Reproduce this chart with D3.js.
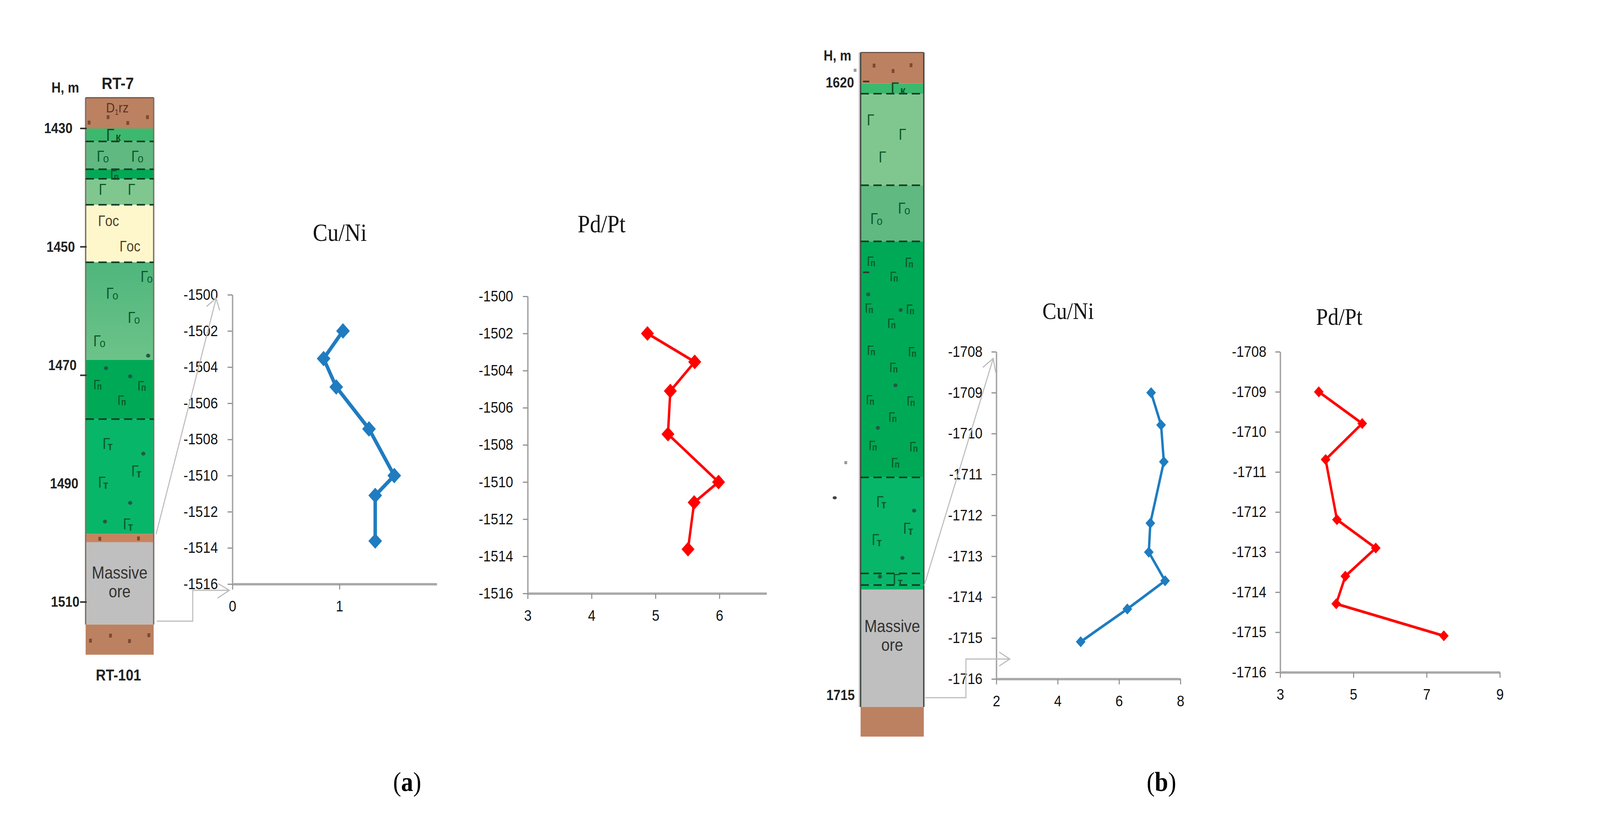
<!DOCTYPE html>
<html>
<head>
<meta charset="utf-8">
<title>Cu/Ni and Pd/Pt profiles</title>
<script src="https://cdn.jsdelivr.net/npm/d3@7"></script>
<style>
    html, body { margin: 0; padding: 0; background: #fff; overflow: hidden; }
    svg { display: block; width: 100vw; height: 100vh; }
    text { font-family: "Liberation Sans", Arial, sans-serif; }
    .title, .caption { font-family: "Liberation Serif", "Times New Roman", serif; }
</style>
</head>
<body>
<script>
"use strict";

// Panel (a) section RT-7 / RT-101: layer tops in metres, last value is the bottom
const columnADepths = [1424.8, 1430, 1432.2, 1436.9, 1438.5, 1442.9, 1452.6, 1469.1, 1479.1, 1498.5, 1499.9, 1513.8, 1518.9];
const columnARocks = ["brown", "gk", "go", "gp", "g", "gos", "goFade", "gp", "gt", "brownThin", "ore", "brown"];
const columnADashed = [1432.2, 1436.9, 1438.5, 1442.9, 1452.6, 1479.1];
const columnADepthTicks = [1430, 1450, 1470, 1490, 1510];
const columnADepthDashes = [1430, 1450, 1471.7, 1510];

// Panel (b) section
const columnBDepths = [1615.3, 1620.1, 1621.7, 1635.9, 1644.6, 1681.2, 1696.1, 1697.9, 1698.6, 1716.8, 1721.4];
const columnBRocks = ["brown", "gk", "g", "go", "gp", "gt", "gt", "gt", "ore", "brown"];
const columnBDashed = [1621.7, 1635.9, 1644.6, 1681.2, 1696.1, 1697.9];
const columnBDepthTicks = [1620, 1715];
const columnBDepthDashes = [1619.8, 1649.4];

// Panel (a) profiles
const depthsA = [-1502, -1503.53, -1505.1, -1507.42, -1510, -1511.1, -1513.62];
const cuNiA = [1.033, 0.852, 0.97, 1.276, 1.512, 1.334, 1.334];
const pdPtA = [4.874, 5.614, 5.232, 5.195, 5.987, 5.605, 5.509];
const depthTicksA = [-1500, -1502, -1504, -1506, -1508, -1510, -1512, -1514, -1516];
const cuNiTicksA = [0, 1];
const pdPtTicksA = [3, 4, 5, 6];

// Panel (b) profiles
const depthsB = [-1709, -1709.79, -1710.69, -1712.19, -1712.9, -1713.6, -1714.29, -1715.09];
const cuNiB = [7.045, 7.37, 7.46, 7.02, 6.97, 7.5, 6.27, 4.75];
const pdPtB = [4.054, 5.24, 4.24, 4.55, 5.61, 4.78, 4.53, 7.47];
const depthTicksB = [-1708, -1709, -1710, -1711, -1712, -1713, -1714, -1715, -1716];
const cuNiTicksB = [2, 4, 6, 8];
const pdPtTicksB = [3, 5, 7, 9];

const rockColors = {
    brown: "#bc8160",
    brownThin: "#c9835f",
    gk: "#3cb96e",
    go: "#5fb981",
    goFade: "url(#goFade)",
    gp: "#00a955",
    g: "#80c78f",
    gos: "#fff7cc",
    gt: "#08b669",
    ore: "#bfbfbf"
};

// how the small letter sits in the corner of the gabbro sign
const signStyles = {
    "": { big: 40, small: 30, dx: 0, dy: 0, weight: "normal", fill: "#0b5a2c" },
    "о": { big: 40, small: 30, dx: -3, dy: 2, weight: "normal", fill: "#0b5a2c" },
    "п": { big: 36, small: 24, dx: -9, dy: 1, weight: "bold", fill: "#0b5a2c" },
    "т": { big: 40, small: 30, dx: -7, dy: 3, weight: "bold", fill: "#0b5a2c" },
    "к": { big: 44, small: 30, dx: 4, dy: 0, weight: "bold", fill: "#0d4f2a" },
    "ос": { big: 38, small: 38, dx: 0, dy: 0, weight: "normal", fill: "#4d4028" }
};

// Lithology pattern placed on the columns: [label, x, y]
const symbolsA = [
    ["о", 298, 400], ["о", 398, 400], ["к", 325, 347], ["п", 337, 446],
    ["", 304, 485], ["", 388, 485],
    ["ос", 313, 565], ["ос", 375, 630],
    ["о", 425, 708], ["о", 325, 751], ["о", 388, 813], ["о", 288, 873],
    ["п", 288, 983], ["п", 416, 986], ["п", 358, 1023],
    ["т", 315, 1136], ["т", 398, 1206], ["т", 302, 1235], ["т", 374, 1342]
];
const dotsA = [[429, 911], [307, 943], [377, 964], [415, 1162], [377, 1288], [304, 1336]];
const grainsA = [[313, 300], [427, 300], [258, 314], [370, 315], [289, 1380], [401, 1379],
    [320, 1628], [431, 1627], [262, 1641], [375, 1642]];

const symbolsB = [
    ["к", 2597, 228], ["", 2528, 307], ["", 2620, 344], ["", 2562, 402],
    ["о", 2538, 560], ["о", 2618, 533],
    ["п", 2528, 667], ["п", 2594, 706], ["п", 2522, 787], ["п", 2587, 826],
    ["п", 2528, 895], ["п", 2593, 939], ["п", 2525, 1022], ["п", 2590, 1066],
    ["п", 2533, 1139], ["п", 2598, 1183],
    ["п", 2638, 670], ["п", 2641, 790], ["п", 2647, 899], ["п", 2643, 1025], ["п", 2651, 1142],
    ["т", 2555, 1285], ["т", 2633, 1353], ["т", 2542, 1382], ["т", 2603, 1484]
];
const dotsB = [[2514, 754], [2608, 794], [2593, 987], [2542, 1096], [2647, 1308], [2613, 1429], [2548, 1477]];
const grainsB = [[2531, 168], [2586, 182], [2638, 167]];

const width = 4633;
const height = 2108;

// the drawing stays in the 4633x2108 frame, whatever the window really gives
const svg = d3.select("body").append("svg")
    .attr("viewBox", [0, 0, width, height])
    .attr("preserveAspectRatio", "none");

svg.append("rect").attr("width", width).attr("height", height).attr("fill", "#fff");

const fade = svg.append("defs").append("linearGradient")
    .attr("id", "goFade")
    .attr("x1", 0).attr("x2", 0).attr("y1", 0).attr("y2", 1);
fade.append("stop").attr("offset", 0).attr("stop-color", "#4fb67c");
fade.append("stop").attr("offset", 1).attr("stop-color", "#6cc389");

function drawColumn(opts) {
    const y = d3.scaleLinear().domain(opts.depthDomain).range(opts.depthRange);
    const g = svg.append("g");
    const layers = opts.rocks.map((rock, i) => ({ rock, top: opts.depths[i], bottom: opts.depths[i + 1] }));

    if (opts.stripe) {
        g.append("rect")
            .attr("x", opts.left - 6).attr("width", 6)
            .attr("y", y(opts.depths[0]))
            .attr("height", y(opts.depths[opts.depths.length - 2]) - y(opts.depths[0]))
            .attr("fill", opts.stripe);
    }

    g.selectAll("rect.layer").data(layers).join("rect")
        .attr("class", "layer")
        .attr("x", opts.left)
        .attr("width", opts.right - opts.left)
        .attr("y", d => y(d.top))
        .attr("height", d => y(d.bottom) - y(d.top))
        .attr("fill", d => rockColors[d.rock]);

    // side walls
    [opts.left, opts.right].forEach(x => {
        g.append("line")
            .attr("x1", x).attr("x2", x)
            .attr("y1", y(opts.depths[0]))
            .attr("y2", y(opts.depths[opts.depths.length - 2]))
            .attr("stroke", opts.wall)
            .attr("stroke-width", 4);
    });
    g.append("line")
        .attr("x1", opts.left).attr("x2", opts.right)
        .attr("y1", y(opts.depths[0])).attr("y2", y(opts.depths[0]))
        .attr("stroke", "#6e5648").attr("stroke-width", 3);

    g.selectAll("line.dash").data(opts.dashed).join("line")
        .attr("class", "dash")
        .attr("x1", opts.left).attr("x2", opts.right)
        .attr("y1", d => y(d)).attr("y2", d => y(d))
        .attr("stroke", "#123a22")
        .attr("stroke-width", 4)
        .attr("stroke-dasharray", "24 13");

    g.selectAll("rect.grain").data(opts.grains).join("rect")
        .attr("class", "grain")
        .attr("x", d => d[0] - 4).attr("y", d => d[1] - 5)
        .attr("width", 8).attr("height", 10)
        .attr("fill", "#7a4a34");

    g.selectAll("ellipse.dot").data(opts.dots).join("ellipse")
        .attr("class", "dot")
        .attr("cx", d => d[0]).attr("cy", d => d[1])
        .attr("rx", 6).attr("ry", 5)
        .attr("fill", "#1f5c45");

    const sym = g.selectAll("text.sym").data(opts.symbols).join("text")
        .attr("class", "sym")
        .attr("x", d => d[0] === "ос" ? d[1] - 29 : d[1] - 18)
        .attr("y", d => d[2] + 14)
        .attr("fill", d => signStyles[d[0]].fill);
    sym.append("tspan")
        .attr("font-size", d => signStyles[d[0]].big)
        .text("Г");
    sym.append("tspan")
        .attr("font-size", d => signStyles[d[0]].small)
        .attr("font-weight", d => signStyles[d[0]].weight)
        .attr("dx", d => signStyles[d[0]].dx)
        .attr("dy", d => signStyles[d[0]].dy)
        .text(d => d[0]);

    // depth labels along the left wall
    const axis = d3.axisLeft(y).tickValues(opts.depthTicks).tickSize(0).tickFormat(d => String(d));
    const ga = g.append("g").attr("transform", `translate(${opts.left},0)`).call(axis);
    ga.select(".domain").remove();
    ga.selectAll("text")
        .attr("x", (d, i) => opts.labelEnds[i] - opts.left)
        .attr("font-size", 37)
        .attr("font-weight", "bold")
        .attr("fill", "#222");

    g.selectAll("line.depthDash").data(opts.depthDashes).join("line")
        .attr("class", "depthDash")
        .attr("x1", opts.left + opts.dashFrom).attr("x2", opts.left + opts.dashTo)
        .attr("y1", d => y(d)).attr("y2", d => y(d))
        .attr("stroke", "#333")
        .attr("stroke-width", 4);

    [["Massive", opts.oreY[0]], ["ore", opts.oreY[1]]].forEach(t => {
        g.append("text")
            .attr("x", (opts.left + opts.right) / 2)
            .attr("y", t[1])
            .attr("text-anchor", "middle")
            .attr("dominant-baseline", "central")
            .attr("font-size", 44)
            .attr("fill", "#333")
            .text(t[0]);
    });
}

function drawProfile(opts) {
    const x = d3.scaleLinear().domain(opts.xDomain).range(opts.xRange);
    const y = d3.scaleLinear().domain(opts.yDomain).range(opts.yRange);
    const g = svg.append("g");

    const yAxis = d3.axisLeft(y)
        .tickValues(opts.yTicks)
        .tickSize(14)
        .tickSizeOuter(0)
        .tickPadding(opts.yPad)
        .tickFormat(d => String(d));
    const xAxis = d3.axisBottom(x)
        .tickValues(opts.xTicks)
        .tickSize(14)
        .tickSizeOuter(0)
        .tickPadding(28)
        .tickFormat(d => String(d));

    const gy = g.append("g").attr("transform", `translate(${opts.xRange[0]},0)`).call(yAxis);
    const gx = g.append("g").attr("transform", `translate(0,${opts.yRange[1]})`).call(xAxis);

    gy.select(".domain").attr("stroke", "#a3a3a3").attr("stroke-width", 4);
    gx.select(".domain").attr("stroke", "#a8a8a8").attr("stroke-width", 6);
    g.selectAll(".tick line").attr("stroke", "#909090").attr("stroke-width", 3);
    g.selectAll(".tick text").attr("font-size", 39).attr("fill", "#111").attr("font-family", "Liberation Sans");

    const points = opts.values.map((v, i) => ({ v, d: opts.depths[i] }));
    const line = d3.line().x(d => x(d.v)).y(d => y(d.d));

    g.append("path")
        .datum(points)
        .attr("d", line)
        .attr("fill", "none")
        .attr("stroke", opts.color)
        .attr("stroke-width", opts.lineWidth)
        .attr("stroke-linejoin", "round");

    g.selectAll("path.marker").data(points).join("path")
        .attr("class", "marker")
        .attr("d", d3.symbol().type(d3.symbolDiamond2).size(opts.markerSize))
        .attr("transform", d => `translate(${x(d.v)},${y(d.d)})`)
        .attr("fill", opts.color);

    svg.append("text")
        .attr("class", "title")
        .attr("x", opts.titleAt[0])
        .attr("y", opts.titleAt[1])
        .attr("text-anchor", "middle")
        .attr("font-size", opts.titleSize)
        .attr("fill", "#111")
        .text(opts.title);
}

// thin grey pointers from the column to the first profile
function drawCallout(path) {
    svg.append("path")
        .attr("d", path)
        .attr("fill", "none")
        .attr("stroke", "#bcbcbc")
        .attr("stroke-width", 3);
}

drawColumn({
    depths: columnADepths, rocks: columnARocks, dashed: columnADashed,
    depthDomain: [1430, 1510], depthRange: [329, 1542],
    left: 248, right: 445, wall: "#7d7268",
    depthTicks: columnADepthTicks, labelEnds: [210, 217, 222, 227, 230],
    depthDashes: columnADepthDashes, dashFrom: -16, dashTo: 3,
    symbols: symbolsA, dots: dotsA, grains: grainsA, oreY: [1467, 1515]
});

drawColumn({
    depths: columnBDepths, rocks: columnBRocks, dashed: columnBDashed,
    depthDomain: [1620, 1715], depthRange: [212, 1781],
    left: 2492, right: 2675, wall: "#3f4a42", stripe: "#d8d0d2",
    depthTicks: columnBDepthTicks, labelEnds: [2473, 2475],
    depthDashes: columnBDepthDashes, dashFrom: 7, dashTo: 25,
    symbols: symbolsB, dots: dotsB, grains: grainsB, oreY: [1604, 1652]
});

drawProfile({
    values: cuNiA, depths: depthsA, color: "#1f7cc0", lineWidth: 10, markerSize: 1000,
    xDomain: [0, 1.91], xRange: [673, 1265], xTicks: cuNiTicksA,
    yDomain: [-1500, -1516], yRange: [755, 1496], yTicks: depthTicksA, yPad: 28,
    title: "Cu/Ni", titleAt: [984, 617], titleSize: 64
});

drawProfile({
    values: pdPtA, depths: depthsA, color: "#ff0000", lineWidth: 7, markerSize: 900,
    xDomain: [3, 6.74], xRange: [1528, 2220], xTicks: pdPtTicksA,
    yDomain: [-1500, -1516], yRange: [759, 1520], yTicks: depthTicksA, yPad: 28,
    title: "Pd/Pt", titleAt: [1742, 595], titleSize: 64
});

drawProfile({
    values: cuNiB, depths: depthsB, color: "#1f7cc0", lineWidth: 7, markerSize: 500,
    xDomain: [2, 8], xRange: [2885, 3418], xTicks: cuNiTicksB,
    yDomain: [-1708, -1716], yRange: [901, 1739], yTicks: depthTicksB, yPad: 26,
    title: "Cu/Ni", titleAt: [3093, 817], titleSize: 61
});

drawProfile({
    values: pdPtB, depths: depthsB, color: "#ff0000", lineWidth: 7, markerSize: 500,
    xDomain: [3, 9], xRange: [3707, 4343], xTicks: pdPtTicksB,
    yDomain: [-1708, -1716], yRange: [901, 1722], yTicks: depthTicksB, yPad: 26,
    title: "Pd/Pt", titleAt: [3878, 832], titleSize: 62
});

// column (a) pointers
drawCallout("M452,1368 L626,764 M598,785 L626,764 L636,795");
drawCallout("M454,1591 H558 V1512 H664 M632,1495 L664,1512 L630,1532");
// column (b) pointers
drawCallout("M2676,1500 L2876,918 M2846,941 L2876,918 L2883,954");
drawCallout("M2679,1787 H2797 V1688 H2924 M2893,1670 L2924,1688 L2893,1706");

// section names
[["H, m", 189, 224, 37], ["RT-7", 341, 213, 43], ["RT-101", 343, 1729, 40], ["H, m", 2425, 142, 37]].forEach(t => {
    svg.append("text")
        .attr("x", t[1]).attr("y", t[2])
        .attr("text-anchor", "middle")
        .attr("dominant-baseline", "central")
        .attr("font-size", t[3])
        .attr("font-weight", "bold")
        .attr("fill", "#222")
        .text(t[0]);
});

const rz = svg.append("text")
    .attr("x", 307).attr("y", 288)
    .attr("font-size", 35)
    .attr("fill", "#5a3424");
rz.append("tspan").text("D");
rz.append("tspan").attr("font-size", 20).attr("dy", 6).text("1");
rz.append("tspan").attr("dy", -6).text("rz");

// stray specks left over in the scanned figure
svg.selectAll("rect.stray").data([[2476, 180], [2449, 1185]]).join("rect")
    .attr("class", "stray")
    .attr("x", d => d[0] - 4).attr("y", d => d[1] - 4)
    .attr("width", 8).attr("height", 8)
    .attr("fill", "#999");
svg.append("ellipse")
    .attr("cx", 2417).attr("cy", 1275)
    .attr("rx", 6).attr("ry", 4)
    .attr("fill", "#444");

[["a", 1179], ["b", 3363]].forEach(c => {
    const t = svg.append("text")
        .attr("class", "caption")
        .attr("x", c[1]).attr("y", 2026)
        .attr("text-anchor", "middle")
        .attr("font-size", 70)
        .attr("fill", "#000");
    t.append("tspan").text("(");
    t.append("tspan").attr("font-weight", "bold").text(c[0]);
    t.append("tspan").text(")");
});
</script>
</body>
</html>
